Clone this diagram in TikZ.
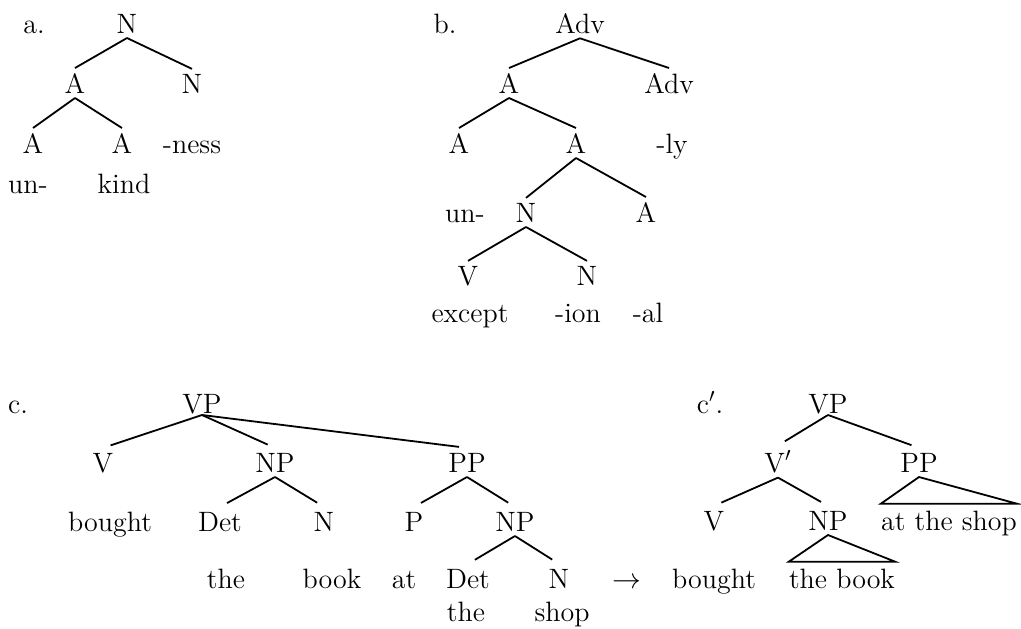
\documentclass[tikz,border=0pt]{standalone}
\begin{document}
\begin{tikzpicture}[x=0.5pt,y=-0.5pt,
  every node/.style={font=\fontsize{14}{17}\selectfont, anchor=base, inner sep=2.3pt},
  br/.style={line width=0.9pt},
  brc/.style={line width=0.9pt, shorten >=4pt},
  leaf/.style={inner xsep=0pt, inner ysep=3.2pt}]

\useasboundingbox (0,0) rectangle (1021,628);

\node (la) at (34,33) {a.};
\node (aN) at (127,33) {N};
\node (aA) at (75,93) {A};
\node (aN2) at (192,93) {N};
\node (aA1) at (33,153) {A};
\node (aA2) at (122,153) {A};
\node (aness) at (192,153) {-ness};
\node (aun) at (28,193) {un-};
\node (akind) at (124,193) {kind};
\draw[br] (aN.south) -- (aA.north);
\draw[br] (aN.south) -- (aN2.north);
\draw[br] (aA.south) -- (aA1.north);
\draw[br] (aA.south) -- (aA2.north);

\node (lb) at (445,33) {b.};
\node (bAdv) at (580,33) {Adv};
\node (bA) at (509,93) {A};
\node (bAdv2) at (669,93) {Adv};
\node (bA1) at (459,153) {A};
\node (bA2) at (576,153) {A};
\node (bly) at (672,153) {-ly};
\node (bun) at (465,222) {un-};
\node (bN) at (526,222) {N};
\node (bA3) at (646,222) {A};
\node (bV) at (468,285) {V};
\node (bN2) at (587,285) {N};
\node (bexc) at (470,322) {except};
\node (bion) at (578,322) {-ion};
\node (bal) at (648,322) {-al};
\draw[br] (bAdv.south) -- (bA.north);
\draw[br] (bAdv.south) -- (bAdv2.north);
\draw[br] (bA.south) -- (bA1.north);
\draw[br] (bA.south) -- (bA2.north);
\draw[br] (bA2.south) -- (bN.north);
\draw[br] (bA2.south) -- (bA3.north);
\draw[br] (bN.south) -- (bV.north);
\draw[br] (bN.south) -- (bN2.north);

\node (lc) at (18,413) {c.};
\node[inner ysep=0.5pt] (cVP) at (202,413) {VP};
\node (cV) at (103,472) {V};
\node (cNP) at (275,472) {NP};
\node (cPP) at (467,472) {PP};
\node (cbought) at (110,531) {bought};
\node (cDet) at (220,531) {Det};
\node (cN) at (324,531) {N};
\node (cP) at (414,531) {P};
\node (cNP2) at (515,531) {NP};
\node (cthe) at (226,588) {the};
\node (cbook) at (332,588) {book};
\node (cat) at (404,588) {at};
\node (cDet2) at (468,588) {Det};
\node (cN2) at (559,588) {N};
\node (arr) at (627,588) {$\rightarrow$};
\node (cthe2) at (466,621) {the};
\node (cshop) at (562,621) {shop};
\draw[brc] (cVP.south) -- (cV.north);
\draw[brc] (cVP.south) -- (cNP.north);
\draw[brc] (cVP.south) -- (cPP.north);
\draw[brc] (cNP.south) -- (cDet.north);
\draw[brc] (cNP.south) -- (cN.north);
\draw[brc] (cPP.south) -- (cP.north);
\draw[brc] (cPP.south) -- (cNP2.north);
\draw[brc] (cNP2.south) -- (cDet2.north);
\draw[brc] (cNP2.south) -- (cN2.north);

\node (lcp) at (710,413) {c$'$.};
\node[inner ysep=0.5pt] (dVP) at (828,413) {VP};
\node (dVb) at (778,472) {V$'$};
\node (dPP) at (919,472) {PP};
\node (dV) at (714,530) {V};
\node (dNP) at (828,530) {NP};
\node[leaf] (dshop) at (949,530) {at the shop};
\node (dbought) at (714,588) {bought};
\node[leaf] (dbook) at (842,588) {the book};
\draw[brc] (dVP.south) -- (dVb.north);
\draw[brc] (dVP.south) -- (dPP.north);
\draw[brc] (dVb.south) -- (dV.north);
\draw[brc] (dVb.south) -- (dNP.north);
\draw[br] (dPP.south) -- (dshop.north east) -- (dshop.north west) -- cycle;
\draw[br] (dNP.south) -- (dbook.north east) -- (dbook.north west) -- cycle;
\end{tikzpicture}
\end{document}
